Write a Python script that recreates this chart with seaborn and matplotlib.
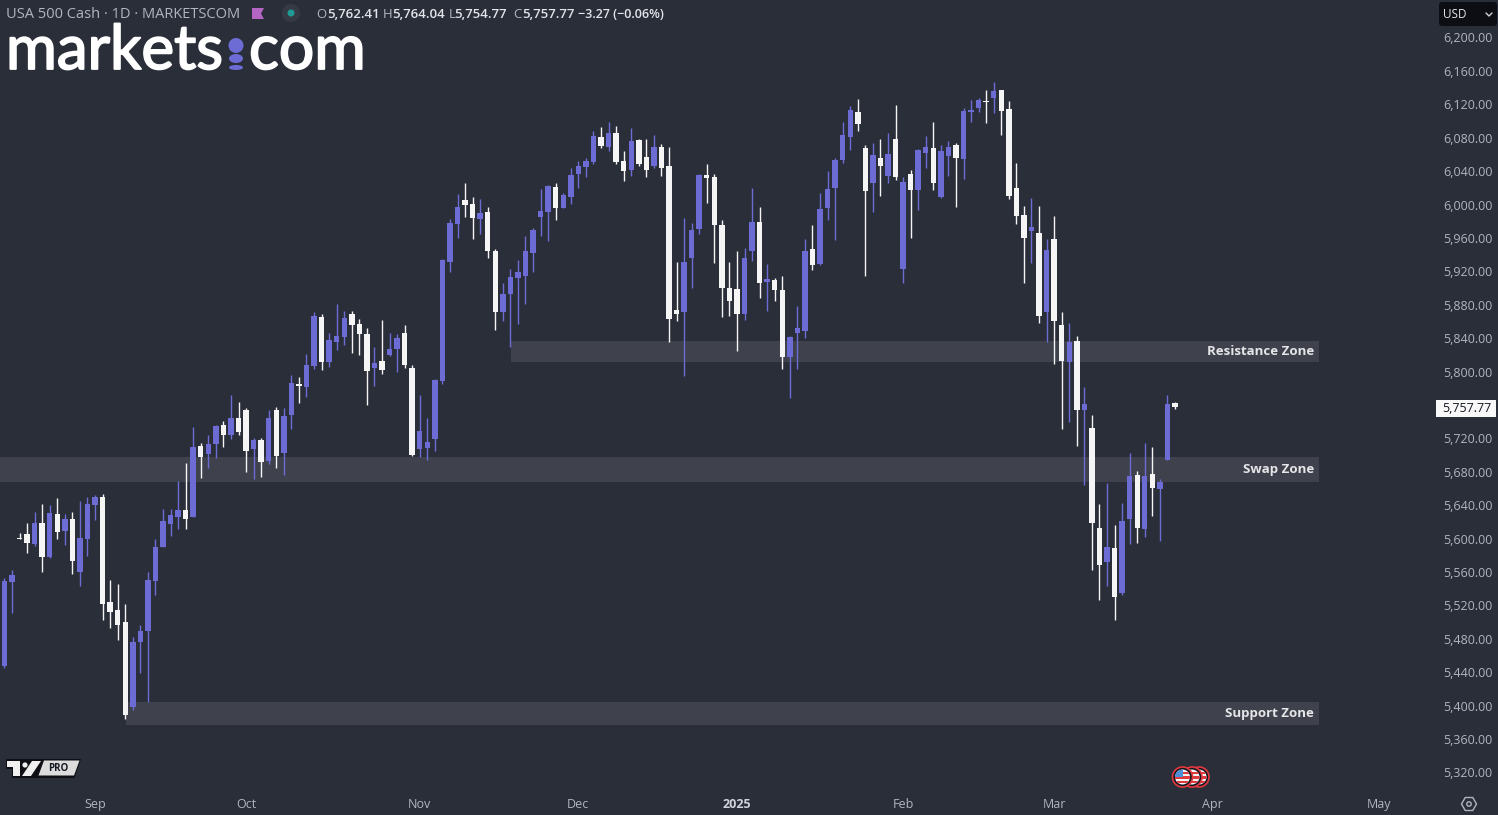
import matplotlib
matplotlib.use('Agg')
import matplotlib.pyplot as plt
import matplotlib.patheffects as pe
from matplotlib.patches import Rectangle, Ellipse, Circle, Polygon, RegularPolygon, FancyBboxPatch
from matplotlib.ticker import FuncFormatter
import seaborn as sns
import numpy as np
import pandas as pd

opens = [5447,5548,5601,5606,5594,5619,5578,5629,5609,5623,5560,5600,5640,5650,5524,5515,5500,5398,5476,5489,
         5549,5590,5618,5626,5634,5626,5711,5701,5713,5736,5724,5744,5754,5707,5718,5693,5754,5703,5748,5785,
         5782,5807,5865,5811,5835,5841,5869,5857,5845,5804,5813,5820,5827,5846,5804,5707,5708,5719,5789,5931,
         5977,6005,6001,5983,5991,5944,5871,5893,5912,5914,5942,5985,5991,6021,5996,6009,6037,6045,6051,6081,
         6069,6086,6052,6041,6077,6057,6046,6069,6046,5874,5871,5936,5971,6035,6033,5975,5900,5899,5869,5944,
         5979,5907,5910,5898,5817,5846,5849,5947,5929,5996,6020,6053,6081,6111,6068,6026,6056,6034,6078,5923,
         6037,6017,6062,6068,6009,6058,6071,6055,6111,6116,6124,6128,6137,6114,6020,5987,5968,5966,5871,5959,
         5856,5811,5837,5754,5732,5613,5572,5589,5535,5624,5676,5612,5677,5659,5694,5762.41]
highs = [5553,5562,5607,5619,5632,5641,5640,5649,5629,5632,5645,5650,5652,5653,5550,5546,5522,5482,5497,5560,
         5600,5635,5635,5669,5691,5734,5714,5724,5736,5741,5772,5764,5756,5720,5720,5754,5758,5756,5796,5794,
         5821,5871,5869,5846,5881,5873,5873,5863,5852,5829,5862,5846,5845,5856,5808,5772,5744,5791,5935,5983,
         6013,6026,6009,6007,5997,5947,5906,5923,5934,5962,5972,6019,6023,6026,6014,6044,6052,6056,6088,6093,
         6099,6094,6064,6092,6078,6078,6083,6072,6069,5931,5984,5978,6037,6049,6037,5982,5931,5944,5948,6020,
         5997,5929,5912,5914,5843,5879,5959,5975,6014,6040,6056,6099,6118,6126,6071,6074,6078,6086,6119,6033,
         6041,6066,6082,6099,6071,6076,6074,6116,6125,6128,6137,6147,6137,6124,6050,5998,6008,5998,5959,5986,
         5871,5858,5843,5782,5748,5641,5667,5616,5643,5703,5681,5714,5710,5671,5772,5764.04]
lows = [5445,5511,5600,5583,5591,5560,5577,5600,5592,5558,5543,5579,5622,5503,5493,5479,5384,5395,5439,5404,
        5532,5590,5603,5612,5612,5626,5673,5685,5697,5710,5719,5724,5680,5671,5674,5689,5685,5676,5731,5762,
        5770,5803,5802,5805,5826,5832,5822,5820,5760,5783,5797,5819,5799,5804,5699,5698,5694,5705,5785,5919,
        5960,5985,5959,5965,5936,5850,5861,5829,5857,5881,5919,5962,5956,5982,5996,6001,6020,6033,6049,6068,
        6064,6049,6028,6034,6046,6033,6044,6034,5835,5861,5795,5900,5965,6002,5930,5865,5867,5825,5862,5932,
        5888,5873,5884,5803,5768,5803,5840,5922,5928,5982,5958,6050,6065,6088,5914,5991,6010,6026,6029,5906,
        5960,5993,6044,6017,6008,6034,5997,6031,6099,6111,6098,6110,6083,6007,5977,5906,5930,5858,5835,5809,
        5731,5740,5711,5664,5562,5526,5543,5503,5533,5594,5595,5602,5627,5597,5694,5754.77]
closes = [5549,5556,5600,5595,5619,5578,5631,5608,5623,5573,5601,5641,5650,5522,5512,5497,5389,5476,5489,5550,
          5590,5621,5628,5634,5623,5710,5698,5713,5735,5724,5744,5728,5705,5718,5692,5744,5699,5747,5786,5783,
          5808,5867,5811,5838,5843,5864,5856,5845,5801,5810,5802,5827,5840,5808,5700,5729,5716,5790,5934,5978,
          5997,5999,5984,5990,5944,5871,5893,5913,5919,5944,5970,5992,6022,5996,6011,6035,6046,6052,6082,6070,
          6086,6051,6040,6076,6049,6041,6069,6044,5863,5869,5931,5970,6035,6032,5975,5900,5884,5869,5936,5979,
          5906,5911,5898,5817,5841,5852,5944,5928,5995,6019,6053,6083,6113,6096,6016,6059,6046,6060,6033,6027,
          6017,6065,6069,6026,6064,6069,6056,6112,6113,6125,6123,6136,6112,6010,5986,5960,5973,5867,5946,5861,
          5813,5835,5754,5761,5619,5568,5590,5530,5621,5675,5613,5675,5661,5668,5761.04,5757.77]

price_ticks = list(range(5320, 6240, 40))
month_pos = [12, 32, 55, 76, 97, 119, 139, 160, 182]
month_labels = ['Sep', 'Oct', 'Nov', 'Dec', '2025', 'Feb', 'Mar', 'Apr', 'May']

zone_names = ['Resistance Zone', 'Swap Zone', 'Support Zone']
zone_top = [5836.6, 5697.7, 5404.4]
zone_bottom = [5811.5, 5667.8, 5376.9]
zone_start = [67.1, -1, 16.1]
zone_end = 174.07
last_close = 5757.77

BG = '#2a2e39'
UP = '#6c6cd4'
DOWN = '#f5f5f5'
GREY = '#b2b5be'
ZONE = '#3f424d'

df = pd.DataFrame({'idx': np.arange(len(opens)), 'open': opens, 'high': highs, 'low': lows, 'close': closes})
df['body_low'] = df[['open', 'close']].min(axis=1)
df['body'] = (df['close'] - df['open']).abs()
df['up'] = df['close'] > df['open']

sns.set_theme(style='dark')
plt.rcParams['font.family'] = ['Open Sans', 'DejaVu Sans']

W, H = 1498, 815
fig = plt.figure(figsize=(W / 100, H / 100), dpi=100, facecolor=BG)
ax = fig.add_axes([0, 1 - 790 / H, 1431 / W, 790 / H], facecolor=BG)

for name, top, bot, start in zip(zone_names, zone_top, zone_bottom, zone_start):
    ax.add_patch(Rectangle((start, bot), zone_end - start, top - bot, color=ZONE, lw=0, zorder=0.5))
    ax.text(zone_end - 0.65, (top + bot) / 2 - 0.6, name, color='#e6e6e8', fontsize=9.5, fontweight='bold',
            ha='right', va='center', zorder=5)

for is_up, col in [(True, UP), (False, DOWN)]:
    sub = df[df['up'] == is_up]
    ax.vlines(sub['idx'], sub['low'], sub['high'], color=col, lw=1.0, zorder=2)
    sns.barplot(data=sub, x='idx', y='body', bottom=sub['body_low'].values, native_scale=True, color=col,
                saturation=1, width=0.72, errorbar=None, linewidth=0, ax=ax, zorder=3)

ax.set_xlim(-0.583, 188.9)
ax.set_ylim(5299.0, 6244.9)
ax.yaxis.tick_right()
ax.set_yticks(price_ticks)
ax.yaxis.set_major_formatter(FuncFormatter(lambda v, _: f'{v:,.2f}'))
ax.set_xticks(month_pos)
ax.set_xticklabels(month_labels)
ax.set_xlabel('')
ax.set_ylabel('')
ax.tick_params(axis='y', length=0, pad=9, labelsize=9, labelcolor=GREY)
ax.tick_params(axis='x', length=0, pad=6, labelsize=9, labelcolor=GREY)
ax.get_xticklabels()[4].set_fontweight('bold')
ax.get_xticklabels()[4].set_color('#d1d4dc')
ax.grid(False)
for s in ax.spines.values():
    s.set_visible(False)

# figure level overlay in pixel coords, y going down
ov = fig.add_axes([0, 0, 1, 1], facecolor='none')
ov.set_xlim(0, W)
ov.set_ylim(H, 0)
ov.axis('off')

# header
ov.text(6, 14, 'USA 500 Cash · 1D · MARKETSCOM', color=GREY, fontsize=10.5, va='center')
ov.add_patch(Polygon([(252, 8), (264, 8), (261, 13.5), (264, 19), (252, 19)], color='#b565c4', lw=0))
ov.add_patch(Circle((291, 13), 9, color='#363a45', lw=0))
ov.add_patch(Circle((291, 13), 3.5, color='#1f9a94', lw=0))
hdr_x = [316, 327, 383, 392, 449, 454, 513, 522]
hdr_txt = ['O', '5,762.41', 'H', '5,764.04', 'L', '5,754.77', 'C', '5,757.77']
for x, t in zip(hdr_x, hdr_txt):
    if len(t) == 1:
        ov.text(x, 14, t, color=GREY, fontsize=9.5, va='center')
    else:
        ov.text(x, 14, t, color='#e3e5ea', fontsize=9.5, fontweight='semibold', va='center')
ov.text(578, 14, '−3.27 (−0.06%)', color='#e3e5ea', fontsize=9, fontweight='semibold', va='center')

# logo
thick = [pe.withStroke(linewidth=1.3, foreground='white')]
ov.text(6, 69, 'markets', color='white', fontsize=44.5, family='Lato', va='baseline', ha='left', path_effects=thick)
ov.text(249, 69, 'com', color='white', fontsize=45, family='Lato', va='baseline', ha='left', path_effects=thick)
for cy, w, h in [(45.5, 15, 15), (58.5, 14, 9), (67.5, 14, 5)]:
    ov.add_patch(Ellipse((236, cy), w, h, color=UP, lw=0))

# currency box
ov.add_patch(FancyBboxPatch((1442, 5), 52, 18, boxstyle='round,pad=3,rounding_size=3', color='#0c0e13', lw=0))
ov.text(1443, 14, 'USD', color='#e3e5ea', fontsize=8.5, va='center')
ov.plot([1486, 1489, 1492], [13, 16, 13], color='#d1d4dc', lw=1)

# last price tag
ov.add_patch(Rectangle((1436, 400), 60, 17, color='#f8f8f8', lw=0))
ov.text(1491, 408, f'{last_close:,.2f}', color='#131722', fontsize=9, va='center', ha='right')

# tv logo
ov.add_patch(Polygon([(6, 759), (81, 759), (74.5, 778), (12, 778), (12, 769), (6, 769)], color='#0e1015', lw=0))
ov.add_patch(Polygon([(7, 761), (20, 761), (20, 776), (13, 776), (13, 767), (7, 767)], color='#f0f0f0', lw=0))
ov.add_patch(Circle((25, 765), 2.6, color='#f0f0f0', lw=0))
ov.add_patch(Polygon([(32, 761), (41, 761), (31, 776), (22, 776)], color='#f0f0f0', lw=0))
ov.add_patch(Polygon([(44, 760.5), (79.5, 760.5), (74, 775.5), (38.5, 775.5)], color='#dcdcdc', lw=0))
ov.text(58.5, 768.3, 'PRO', color='#131722', fontsize=7, fontweight='bold', ha='center', va='center')

# event flags
for cx in [1199, 1192, 1182.5]:
    ov.add_patch(Circle((cx, 777), 10, facecolor='#131722', edgecolor='#e2393e', lw=1.2))
    coin = Circle((cx, 777), 7.5, facecolor='#f4f4f4', lw=0)
    ov.add_patch(coin)
    for dy in [-4, 0.5, 5]:
        stripe = Rectangle((cx - 8, 777 + dy - 1.3), 16, 2.6, color='#e2393e', lw=0)
        ov.add_patch(stripe)
        stripe.set_clip_path(coin)
canton = Rectangle((1175, 770), 8, 7, color='#4a90d9', lw=0)
ov.add_patch(canton)
canton.set_clip_path(Circle((1182.5, 777), 7.5, transform=ov.transData))

# settings icon
ov.add_patch(RegularPolygon((1469, 804), 6, radius=7.5, facecolor='none', edgecolor=GREY, lw=1, orientation=np.pi / 2))
ov.add_patch(Circle((1469, 804), 2.2, facecolor='none', edgecolor=GREY, lw=1))

fig.savefig('out.png', dpi=100, facecolor=BG)
plt.close(fig)
